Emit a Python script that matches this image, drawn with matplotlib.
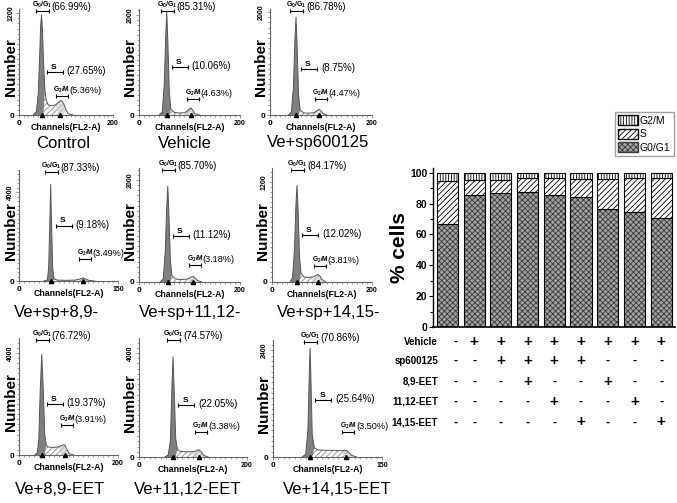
import matplotlib
matplotlib.use("Agg")
import matplotlib.pyplot as plt
import matplotlib.patches as mpatches
from matplotlib.ticker import MultipleLocator
import numpy as np

plt.rcParams["font.family"] = ["Liberation Sans", "DejaVu Sans"]
plt.rcParams["hatch.linewidth"] = 0.6
plt.rcParams["mathtext.fontset"] = "custom"
plt.rcParams["mathtext.rm"] = "Liberation Sans"
plt.rcParams["mathtext.bf"] = "Liberation Sans:bold"

W, H = 677, 503

# ---- histogram panels ----
PANEL_TITLES = ["Control", "Vehicle", "Ve+sp600125",
                "Ve+sp+8,9-", "Ve+sp+11,12-", "Ve+sp+14,15-",
                "Ve+8,9-EET", "Ve+11,12-EET", "Ve+14,15-EET"]
G1_PCT = [66.99, 85.31, 86.78, 87.33, 85.70, 84.17, 76.72, 74.57, 70.86]
S_PCT = [27.65, 10.06, 8.75, 9.18, 11.12, 12.02, 19.37, 22.05, 25.64]
G2_PCT = [5.36, 4.63, 4.47, 3.49, 3.18, 3.81, 3.91, 3.38, 3.50]
X_MAX = [200, 200, 200, 150, 200, 200, 200, 200, 150]
Y_TICK = [1200, 2000, 2000, 4000, 2000, 1200, 4000, 4000, 2400]
Y_MAX = [1250, 2120, 2060, 5000, 2240, 1370, 4590, 4580, 2630]
G1_PEAK = [48, 55, 51, 48, 57, 50, 46, 63, 51]
G2_PEAK = [87, 103, 96, 97, 107, 92, 93, 111, 101]

CH_CONTROL = [30, 37, 41, 44, 46, 48, 50, 52, 55, 58, 62, 70, 78, 84, 88, 92, 96, 100, 105, 115]
N_CONTROL = [0, 40, 250, 700, 1050, 1180, 1000, 650, 300, 170, 120, 110, 120, 150, 170, 160, 120, 60, 15, 0]
CH_VEHICLE = [40, 46, 50, 53, 55, 57, 60, 63, 70, 80, 90, 97, 100, 103, 106, 110, 120]
N_VEHICLE = [0, 60, 600, 1600, 2050, 1500, 450, 120, 50, 40, 45, 90, 130, 140, 100, 30, 0]
CH_SP = [36, 42, 46, 49, 51, 53, 56, 59, 66, 76, 86, 92, 96, 100, 104, 112]
N_SP = [0, 60, 550, 1500, 1900, 1400, 400, 100, 40, 35, 45, 80, 110, 80, 30, 0]
CH_SP89 = [38, 43, 45, 47, 48, 49, 51, 53, 58, 70, 85, 92, 97, 101, 106, 115]
N_SP89 = [0, 50, 600, 3000, 4350, 3000, 600, 100, 40, 30, 40, 90, 140, 90, 25, 0]
CH_SP1112 = [42, 48, 52, 55, 57, 59, 62, 65, 72, 82, 95, 102, 107, 111, 116, 124]
N_SP1112 = [0, 60, 600, 1500, 1880, 1400, 450, 130, 60, 50, 55, 90, 110, 80, 30, 0]
CH_SP1415 = [36, 41, 45, 48, 50, 52, 55, 58, 64, 74, 84, 88, 92, 96, 100, 108]
N_SP1415 = [0, 50, 400, 950, 1160, 900, 300, 110, 60, 55, 65, 80, 90, 70, 30, 0]
CH_EET89 = [32, 37, 40, 43, 46, 49, 52, 55, 58, 64, 72, 80, 86, 90, 93, 97, 102, 110]
N_EET89 = [0, 80, 600, 2600, 3950, 2600, 800, 400, 320, 300, 300, 320, 370, 400, 380, 200, 50, 0]
CH_EET1112 = [48, 54, 58, 61, 63, 65, 68, 71, 76, 85, 95, 104, 108, 111, 115, 120, 128]
N_EET1112 = [0, 80, 600, 2700, 3850, 2700, 700, 300, 220, 200, 200, 220, 260, 280, 200, 60, 0]
CH_EET1415 = [40, 45, 48, 50, 51, 52, 54, 57, 62, 72, 84, 94, 98, 101, 104, 108, 115]
N_EET1415 = [0, 60, 600, 1900, 2450, 1900, 500, 200, 160, 150, 150, 140, 150, 150, 110, 40, 0]

CURVE_CH = [CH_CONTROL, CH_VEHICLE, CH_SP, CH_SP89, CH_SP1112, CH_SP1415,
            CH_EET89, CH_EET1112, CH_EET1415]
CURVE_N = [N_CONTROL, N_VEHICLE, N_SP, N_SP89, N_SP1112, N_SP1415,
           N_EET89, N_EET1112, N_EET1415]

# ---- stacked bar chart ----
BAR_G1 = [66.99, 85.31, 86.78, 87.33, 85.70, 84.17, 76.72, 74.57, 70.86]
BAR_S = [27.65, 10.06, 8.75, 9.18, 11.12, 12.02, 19.37, 22.05, 25.64]
BAR_G2 = [5.36, 4.63, 4.47, 3.49, 3.18, 3.81, 3.91, 3.38, 3.50]
ROW_LABELS = ["Vehicle", "sp600125", "8,9-EET", "11,12-EET", "14,15-EET"]
ROW_SIGNS = [
    "-++++++++",
    "--++++---",
    "---+--+--",
    "----+--+-",
    "-----+--+",
]

# layout (pixels: left, right, top, bottom)
PANEL_BOX = [(19, 113, 9, 115), (139, 240, 9, 115), (270, 372, 9, 115),
             (19, 118, 170, 281), (139, 240, 168, 282), (272, 372, 168, 282),
             (19, 118, 338, 455), (139, 247, 338, 457), (273, 382, 340, 457)]
TITLE_XY = [(63, 143), (185, 143), (318, 143),
            (56, 313), (190, 313), (329, 313),
            (60, 490), (188, 490), (337, 490)]
S_Y = [0.41, 0.45, 0.43, 0.50, 0.40, 0.41, 0.44, 0.44, 0.49]
G2_Y = [0.18, 0.15, 0.15, 0.20, 0.15, 0.14, 0.26, 0.21, 0.21]


def px_rect(l, r, t, b):
    return [l / W, 1 - b / H, (r - l) / W, (b - t) / H]


def bracket(ax, x0, x1, y, trans):
    ax.plot([x0, x1], [y, y], color="black", lw=0.8, transform=trans,
            clip_on=False)
    ax.plot([x0, x1], [y, y], ls="none", marker="|", ms=2.5, mew=0.8,
            color="black", transform=trans, clip_on=False)


def draw_hist(i):
    l, r, t, b = PANEL_BOX[i]
    ax = fig.add_axes(px_rect(l, r, t, b))
    ch = np.array(CURVE_CH[i], dtype=float)
    n = np.array(CURVE_N[i], dtype=float)
    xmax, ymax = X_MAX[i], Y_MAX[i]
    g1, g2 = G1_PEAK[i], G2_PEAK[i]
    k = xmax / 200.0
    p = xmax / float(r - l)  # channels per pixel

    # S-phase hatched part, G2 bump, G1 peak
    ax.fill_between(ch, n, where=(ch >= g1 + 4 * k) & (ch <= g2 + 6 * k),
                    facecolor="white", edgecolor="#8c8c8c", hatch="//////",
                    lw=0, interpolate=True)
    ax.fill_between(ch, n, where=(ch >= g2 - 8 * k) & (ch <= g2 + 12 * k),
                    facecolor="#c8c8c8", alpha=0.6, lw=0, interpolate=True)
    ax.fill_between(ch, n, where=ch <= g1 + 6 * k, facecolor="#7f7f7f",
                    lw=0, interpolate=True)
    ax.plot(ch, n, color="#555555", lw=0.7)
    ax.plot([g1, g2], [0, 0], ls="none", marker="^", ms=3, color="black",
            clip_on=False, zorder=5)

    ax.set_xlim(0, xmax)
    ax.set_ylim(0, ymax)
    for s in ["top", "right"]:
        ax.spines[s].set_visible(False)
    for s in ["left", "bottom"]:
        ax.spines[s].set_color("#666666")
        ax.spines[s].set_linewidth(0.8)
    ax.set_xticks([0, xmax])
    ax.set_xticklabels(["0", str(xmax)], fontweight="bold")
    ax.set_yticks([0, Y_TICK[i]])
    ax.set_yticklabels(["0", str(Y_TICK[i])], fontweight="bold")
    xl = ax.get_xticklabels()
    xl[0].set_fontsize(6)
    xl[1].set_fontsize(5)
    yl = ax.get_yticklabels()
    yl[0].set_fontsize(6)
    yl[1].set_fontsize(5)
    yl[1].set_rotation(90)
    yl[1].set_va("center")
    ax.xaxis.set_minor_locator(MultipleLocator(xmax / 20))
    ax.yaxis.set_minor_locator(MultipleLocator(Y_TICK[i] / 20))
    ax.tick_params(which="both", length=1.5, width=0.5, color="#777777",
                   pad=1)
    ax.tick_params(which="major", length=2.5)

    ax.set_xlabel("Channels(FL2-A)", fontsize=6.3, fontweight="bold")
    ax.xaxis.set_label_coords(0.5, -8.0 / (b - t))
    ax.set_ylabel("Number", fontsize=11, fontweight="bold")
    ax.yaxis.set_label_coords(-0.015, 0.45)

    tr = ax.get_xaxis_transform()
    ph = 1.0 / (b - t)  # one pixel in axes fraction
    # G0/G1 bracket
    bracket(ax, g1 - 6 * p, g1 + 7 * p, 1 - 2 * ph, tr)
    ax.text(g1 + 0.5 * p, 1 - 1 * ph, r"$\mathbf{G_0/G_1}$", fontsize=5,
            ha="center", va="bottom", transform=tr)
    ax.text(g1 + 10 * p, 1 - 3 * ph, "(%.2f%%)" % G1_PCT[i], fontsize=7,
            ha="left", va="bottom", transform=tr)
    # S bracket
    sy = S_Y[i]
    bracket(ax, g1 + 5 * p, g1 + 21 * p, sy, tr)
    ax.text(g1 + 12 * p, sy + 1 * ph, "S", fontsize=6, fontweight="bold",
            ha="center", va="bottom", transform=tr)
    ax.text(g1 + 25 * p, sy - 4 * ph, "(%.2f%%)" % S_PCT[i], fontsize=7,
            ha="left", va="bottom", transform=tr)
    # G2/M bracket
    gy = G2_Y[i]
    bracket(ax, g2 - 4 * p, g2 + 8 * p, gy, tr)
    ax.text(g2 + 2 * p, gy + 1 * ph, r"$\mathbf{G_2/M}$", fontsize=4.8,
            ha="center", va="bottom", transform=tr)
    ax.text(g2 + 9.5 * p, gy + 1 * ph, "(%.2f%%)" % G2_PCT[i], fontsize=6.6,
            ha="left", va="bottom", transform=tr)

    tx, ty = TITLE_XY[i]
    fig.text(tx / W, 1 - ty / H, PANEL_TITLES[i], fontsize=12,
             ha="center", va="center")


fig = plt.figure(figsize=(W / 100, H / 100), dpi=100)
for i in range(9):
    draw_hist(i)

# ---- bar chart ----
bx = fig.add_axes(px_rect(433, 675, 168, 327))
xs = np.arange(len(BAR_G1))
g1 = np.array(BAR_G1)
sp = np.array(BAR_S)
g2 = np.array(BAR_G2)
bw = 0.79
bx.bar(xs, g1, bw, facecolor="#a0a0a0", edgecolor="#3a3a3a", hatch="xxxxxx",
       lw=0)
bx.bar(xs, g1, bw, fill=False, edgecolor="black", lw=0.8)
bx.bar(xs, sp, bw, bottom=g1, facecolor="white", edgecolor="black",
       hatch="//////", lw=0.8)
bx.bar(xs, g2, bw, bottom=g1 + sp, facecolor="white", edgecolor="black",
       hatch="||||||", lw=0.8)
bx.set_xlim(-0.54, 8.52)
bx.set_ylim(0, 103)
bx.set_xticks([])
bx.set_yticks([0, 20, 40, 60, 80, 100])
bx.yaxis.set_minor_locator(MultipleLocator(10))
bx.tick_params(axis="y", which="both", labelsize=7.5, length=3, width=0.8,
               pad=1)
bx.tick_params(axis="y", which="minor", length=2)
for lab in bx.get_yticklabels():
    lab.set_fontweight("bold")
for s in ["top", "right"]:
    bx.spines[s].set_visible(False)
bx.spines["left"].set_linewidth(1.0)
bx.spines["bottom"].set_linewidth(1.2)
bx.set_ylabel("% cells", fontsize=15, fontweight="bold", labelpad=1)

row_y = [-0.095, -0.215, -0.345, -0.47, -0.60]
sign_x = [0.32, 1, 2, 3, 4, 5, 6, 7, 8]
xt = bx.get_xaxis_transform()
for r_i, lab in enumerate(ROW_LABELS):
    bx.text(-0.35, row_y[r_i], lab, fontsize=7, fontweight="bold",
            ha="right", va="center", transform=xt)
    for c_i, sgn in enumerate(ROW_SIGNS[r_i]):
        bx.text(sign_x[c_i], row_y[r_i], sgn,
                fontsize=11 if sgn == "+" else 9,
                fontweight="bold", ha="center", va="center", transform=xt)

handles = [
    mpatches.Patch(facecolor="white", edgecolor="black", hatch="||||||",
                   label="G2/M"),
    mpatches.Patch(facecolor="white", edgecolor="black", hatch="//////",
                   label="S"),
    mpatches.Patch(facecolor="#a0a0a0", edgecolor="#3a3a3a", hatch="xxxxxx",
                   label="G0/G1"),
]
fig.legend(handles=handles, loc="upper left",
           bbox_to_anchor=(615 / W, 1 - 112 / H), fontsize=7.5, frameon=True,
           fancybox=False, edgecolor="#888888", handlelength=1.9,
           handleheight=1.1, handletextpad=0.2, borderpad=0.3,
           labelspacing=0.3, borderaxespad=0)

fig.savefig("out.png", dpi=100)
